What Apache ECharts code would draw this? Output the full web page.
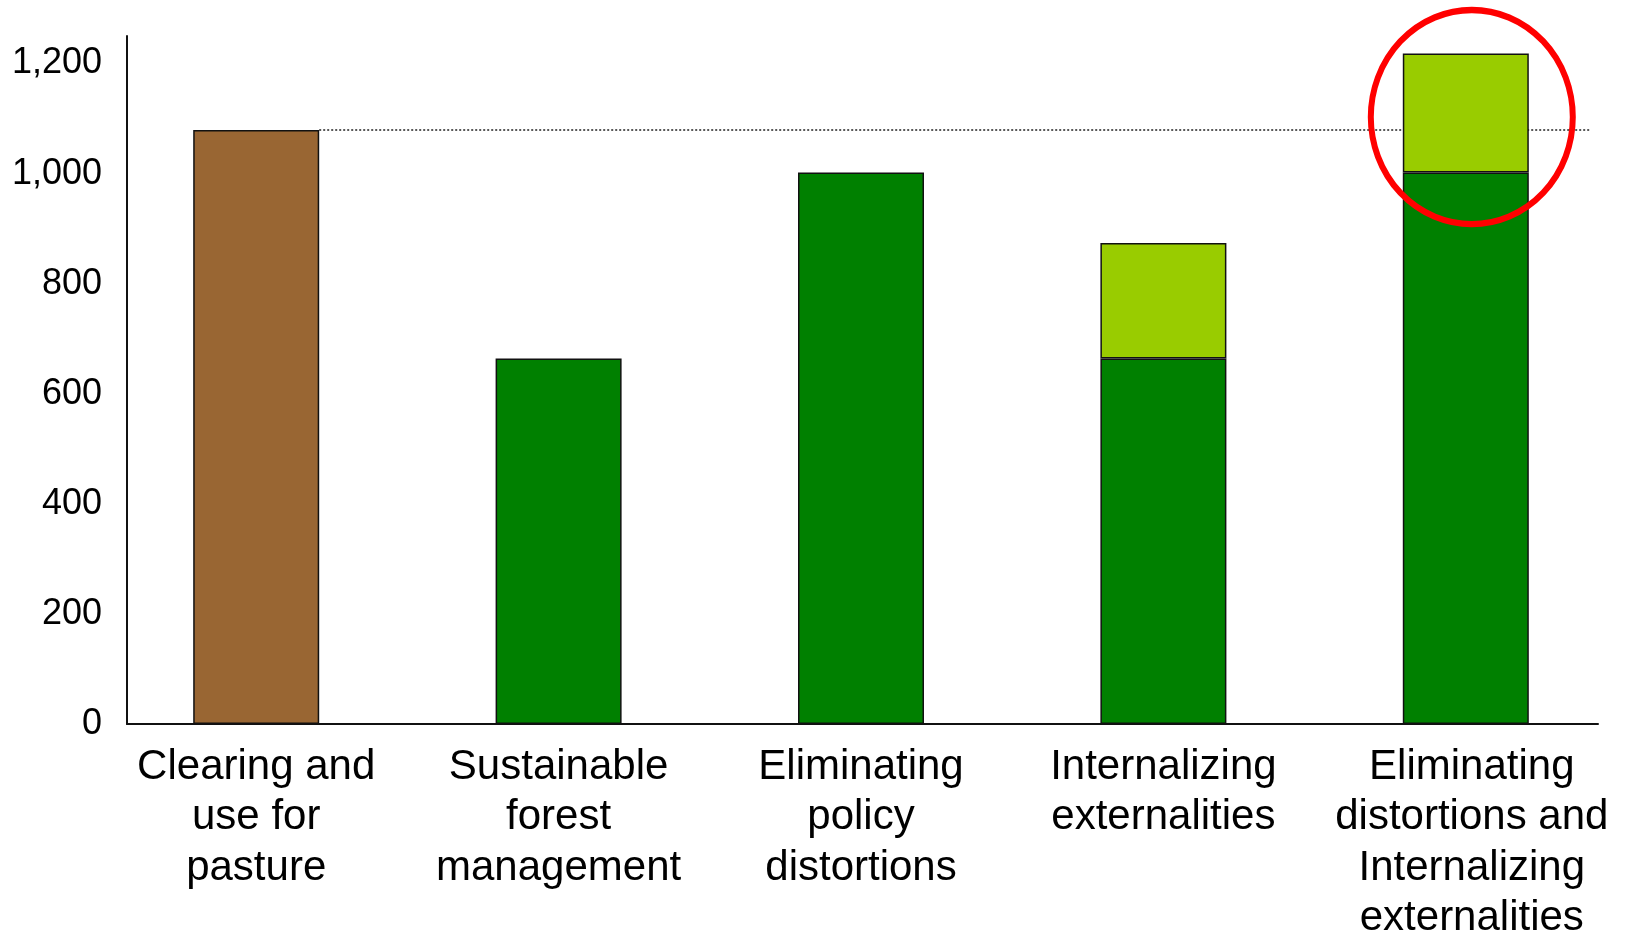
<!DOCTYPE html>
<html>
<head>
<meta charset="utf-8">
<script src="https://cdn.jsdelivr.net/npm/echarts@6/dist/echarts.min.js"></script>
<style>
    html, body { margin: 0; padding: 0; background: #fff; }
    #chart { width: 1626px; height: 935px; }
</style>
</head>
<body>
<div id="chart"></div>
<script>
// categories and values
var categories = [
    'Clearing and\nuse for\npasture',
    'Sustainable\nforest\nmanagement',
    'Eliminating\npolicy\ndistortions',
    'Internalizing\nexternalities',
    'Eliminating\ndistortions and\nInternalizing\nexternalities'
];
var baseValues = [1079, 664, 1002, 664, 1002];
var addedValues = [null, null, null, 210, 216];
var baseColors = ['#996633', '#008000', '#008000', '#008000', '#008000'];
var referenceValue = 1079;   // dotted line = clearing value
var highlightIndex = 4;      // the circled bar

var yMax = 1250;
var font = '"Liberation Sans", Arial, sans-serif';

function drawChart() {
    let myChart = echarts.init(document.getElementById('chart'));

    let baseData = baseValues.map(function (v, i) {
        return { value: v, itemStyle: { color: baseColors[i] } };
    });

    // the last (widest) label sits a little right of its bar
    let categoryData = categories.map(function (c, i) {
        if (i === categories.length - 1) {
            return { value: c, textStyle: { padding: [0, 0, 0, 12] } };
        }
        return c;
    });

    let option = {
        animation: false,
        backgroundColor: '#fff',
        grid: [
            // bars + category labels
            { left: 105, right: 9, top: 36, bottom: 211, outerBoundsMode: 'none', containLabel: false },
            // axis frame + value labels
            { left: 127, right: 28, top: 36, bottom: 211, outerBoundsMode: 'none', containLabel: false }
        ],
        xAxis: [
            {
                type: 'category',
                gridIndex: 0,
                data: categoryData,
                axisLine: { show: false },
                axisTick: { show: false },
                axisLabel: {
                    interval: 0,
                    margin: 18,
                    color: '#000',
                    fontFamily: font,
                    fontSize: 42,
                    lineHeight: 50.5,
                    align: 'center'
                }
            },
            {
                type: 'value',
                gridIndex: 1,
                min: 0,
                max: 1,
                axisLine: { show: true, lineStyle: { color: '#111', width: 2 } },
                axisTick: { show: false },
                axisLabel: { show: false },
                splitLine: { show: false }
            }
        ],
        yAxis: [
            {
                type: 'value',
                gridIndex: 0,
                min: 0,
                max: yMax,
                show: false
            },
            {
                type: 'value',
                gridIndex: 1,
                min: 0,
                max: yMax,
                interval: 200,
                axisLine: { show: true, lineStyle: { color: '#111', width: 2 } },
                axisTick: { show: false },
                splitLine: { show: false },
                axisLabel: {
                    showMaxLabel: false,
                    margin: 25,
                    color: '#000',
                    fontFamily: font,
                    fontSize: 36,
                    formatter: function (val) {
                        return val.toLocaleString('en-US');
                    }
                }
            }
        ],
        series: [
            {
                name: 'Base',
                type: 'bar',
                xAxisIndex: 0,
                yAxisIndex: 0,
                stack: 'total',
                barWidth: 126,
                data: baseData,
                itemStyle: { borderColor: '#111', borderWidth: 1.5 }
            },
            {
                name: 'Added',
                type: 'bar',
                xAxisIndex: 0,
                yAxisIndex: 0,
                stack: 'total',
                barWidth: 126,
                data: addedValues,
                itemStyle: { color: '#99cc00', borderColor: '#111', borderWidth: 1.5 }
            }
        ]
    };

    myChart.setOption(option);

    // place the dotted reference line and the red circle from the axes
    let finder = { xAxisIndex: 0, yAxisIndex: 0 };
    let first = myChart.convertToPixel(finder, [0, referenceValue]);
    let last = myChart.convertToPixel(finder, [categories.length - 1, referenceValue]);
    let halfBar = 63;

    let topVal = baseValues[highlightIndex] + addedValues[highlightIndex];
    let circ = myChart.convertToPixel(finder, [highlightIndex, topVal - addedValues[highlightIndex] / 2]);

    myChart.setOption({
        series: [
            {
                name: 'Base',
                markLine: {
                    z: 1,
                    silent: true,
                    symbol: ['none', 'none'],
                    label: { show: false },
                    lineStyle: { type: [2, 2], color: '#222', width: 1.5 },
                    data: [[
                        { x: first[0] + halfBar, y: first[1] },
                        { x: last[0] + 2 * halfBar - 2, y: last[1] }
                    ]]
                }
            }
        ],
        graphic: [
            {
                type: 'circle',
                z: 100,
                silent: true,
                x: circ[0] + 6,
                y: circ[1] + 4,
                scaleY: 1.06,
                shape: { cx: 0, cy: 0, r: 101 },
                style: { fill: 'none', stroke: '#ff0000', lineWidth: 6 }
            }
        ]
    });
}

drawChart();
</script>
</body>
</html>
